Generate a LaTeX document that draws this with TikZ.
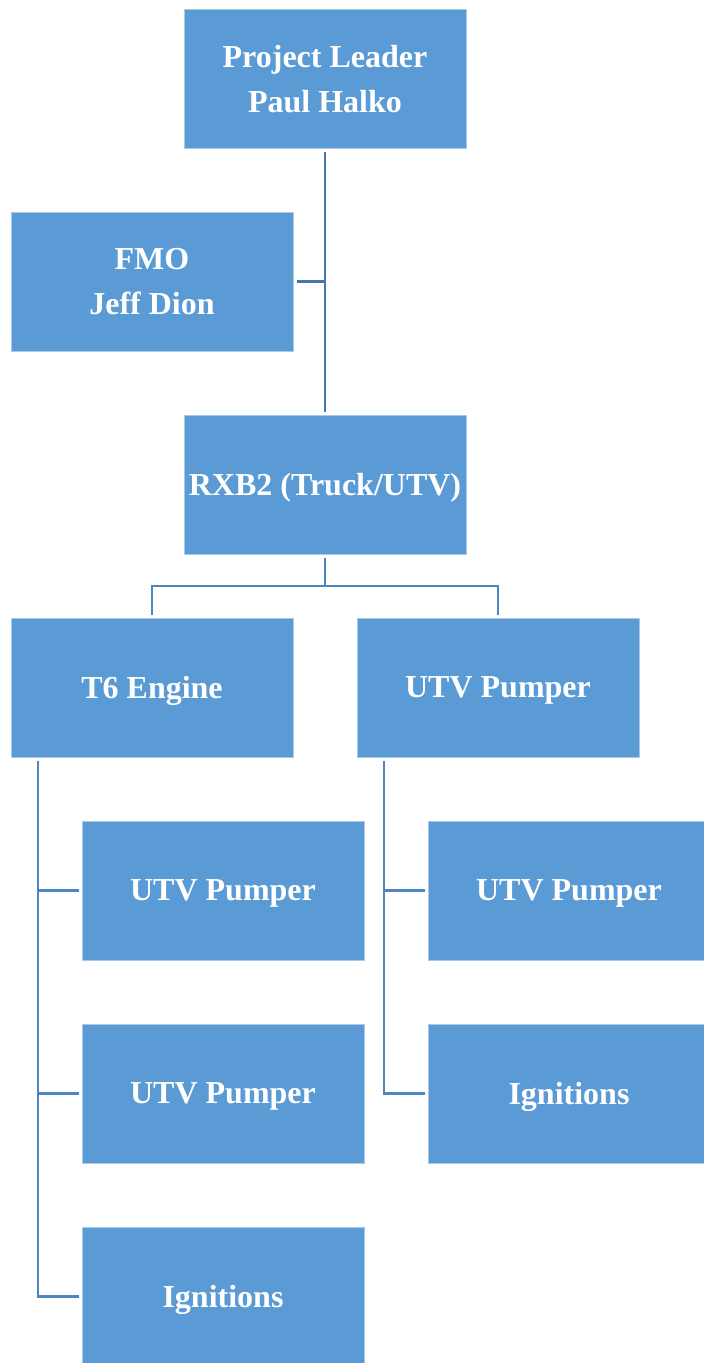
\documentclass[tikz,border=0pt]{standalone}
\usepackage{fontspec}
\setmainfont{Liberation Serif}
\definecolor{boxfill}{HTML}{5B9BD5}
\definecolor{boxedge}{HTML}{A9C8E8}
\definecolor{linkcol}{HTML}{4F86C0}
\definecolor{trunkcol}{HTML}{4676AA}
\begin{document}
\begin{tikzpicture}[x=1pt,y=-1pt,
		box/.style={rectangle, fill=boxfill, draw=boxedge, line width=1pt,
			minimum width=282pt, minimum height=139pt, inner sep=0pt, outer sep=3.5pt,
			text depth=0pt, text=white, align=center, font=\fontsize{32}{45}\selectfont\bfseries},
		link/.style={draw=linkcol, line width=2.5pt}]
			\useasboundingbox (0,0) rectangle (704,1363);
			
			\node[box] (lead) at (325,78.5) {Project Leader\\Paul Halko};
			\node[box] (fmo) at (152,281.5) {FMO\\Jeff Dion};
			\node[box] (rxb) at (325,484.5) {RXB2 (Truck/UTV)};
			
			\node[box] (eng) at (152,687.5) {T6 Engine};
			\node[box] (utv) at (498,687.5) {UTV Pumper};
			
			\node[box] (e1) at (223,890.5) {UTV Pumper};
			\node[box] (e2) at (223,1093.5) {UTV Pumper};
			\node[box] (e3) at (223,1296.5) {Ignitions};
			
			\node[box] (u1) at (569,890.5) {UTV Pumper};
			\node[box] (u2) at (569,1093.5) {Ignitions};
			
			\coordinate (split) at (325,586);
			\coordinate (etop) at (38,761);
			\coordinate (utop) at (384,761);
			
			\draw[link, draw=trunkcol] (lead) -- (rxb);
			\draw[link, draw=trunkcol] (fmo) -- (fmo -| lead);
			\draw[link] (rxb) -- (split);
			\draw[link] (eng) |- (split) -| (utv);
			\draw[link] (etop) |- (e3);
			\draw[link] (etop |- e1) -- (e1);
			\draw[link] (etop |- e2) -- (e2);
			\draw[link] (utop) |- (u2);
			\draw[link] (utop |- u1) -- (u1);
		\end{tikzpicture}
\end{document}
